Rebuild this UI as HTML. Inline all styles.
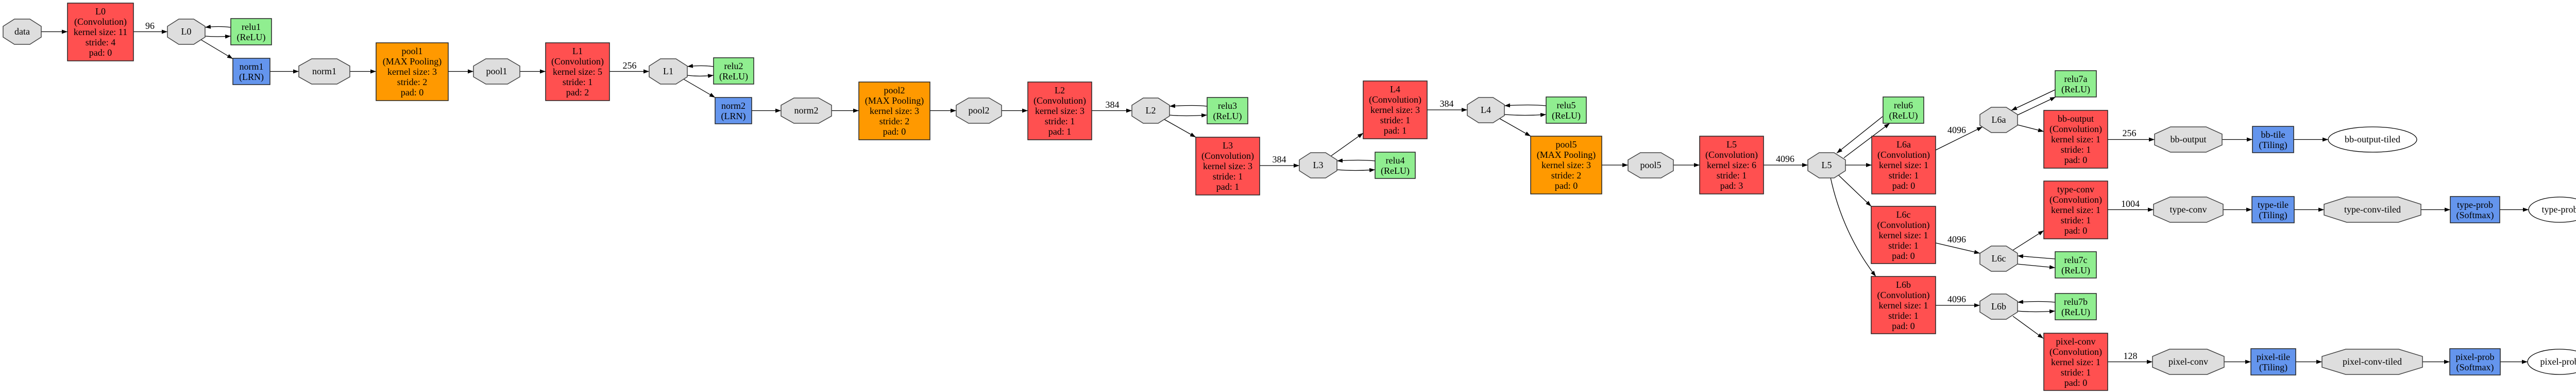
<!DOCTYPE html>
<html><head><meta charset="utf-8"><style>
html,body{margin:0;padding:0;background:#fff;}
svg{display:block;}
text{font-family:"Liberation Serif",serif;font-size:18px;text-anchor:middle;fill:#000;}
.o{fill:#dedede;stroke:#444;stroke-width:1.5;}
.r{fill:#ff5050;stroke:#222;stroke-width:1.5;}
.p{fill:#ff9900;stroke:#222;stroke-width:1.5;}
.g{fill:#90ee90;stroke:#222;stroke-width:1.5;}
.b{fill:#6495ed;stroke:#222;stroke-width:1.5;}
.e{fill:#fff;stroke:#000;stroke-width:1.3;}
.l{fill:none;stroke:#000;stroke-width:1.3;marker-end:url(#a);}
</style></head><body>
<svg width="5032" height="760" viewBox="0 0 5032 760" xmlns="http://www.w3.org/2000/svg">
<defs><marker id="a" markerUnits="userSpaceOnUse" markerWidth="11" markerHeight="8" refX="11" refY="4" orient="auto"><path d="M0,0 L11,4 L0,8 z" fill="#000"/></marker></defs>

<!-- EDGES -->
<path class="l" d="M80,61.5 L131,61.5"/>
<path class="l" d="M259,61.5 L325,61.5"/><text x="291" y="56">96</text>
<path class="l" d="M448,53 Q425,50 398,53"/>
<path class="l" d="M397,70 Q422,72 448,70"/>
<path class="l" d="M390,77 L452,114"/>
<path class="l" d="M524,138.5 L580,138.5"/>
<path class="l" d="M679,138.5 L730,138.5"/>
<path class="l" d="M870,138.5 L919,138.5"/>
<path class="l" d="M1009,138.5 L1059,138.5"/>
<path class="l" d="M1183,138.5 L1260,138.5"/><text x="1222" y="133">256</text>
<path class="l" d="M1385,129 Q1362,126 1334,129"/>
<path class="l" d="M1333,146 Q1358,149 1385,146"/>
<path class="l" d="M1326,153 L1388,189"/>
<path class="l" d="M1459,214.5 L1516,214.5"/>
<path class="l" d="M1614,214.5 L1667,214.5"/>
<path class="l" d="M1805,214.5 L1856,214.5"/>
<path class="l" d="M1944,214.5 L1995,214.5"/>
<path class="l" d="M2119,214.5 L2197,214.5"/><text x="2159" y="209">384</text>
<path class="l" d="M2343,206 Q2320,203 2270,206"/>
<path class="l" d="M2269,223 Q2300,226 2343,223"/>
<path class="l" d="M2259,231 L2321,266"/>
<path class="l" d="M2445,321 L2522,321"/><text x="2483" y="315">384</text>
<path class="l" d="M2669,312 Q2640,309 2595,312"/>
<path class="l" d="M2594,329 Q2630,332 2669,329"/>
<path class="l" d="M2584,302 L2646,258"/>
<path class="l" d="M2770,213 L2848,213"/><text x="2808" y="207">384</text>
<path class="l" d="M3001,205 Q2970,202 2920,205"/>
<path class="l" d="M2919,222 Q2960,225 3001,222"/>
<path class="l" d="M2911,230 L2971,264"/>
<path class="l" d="M3109,320 L3160,320"/>
<path class="l" d="M3248,320 L3299,320"/>
<path class="l" d="M3423,320 L3509,320"/><text x="3465" y="314">4096</text>
<path class="l" d="M3579,306 L3668,239"/>
<path class="l" d="M3654,226 L3565,297"/>
<path class="l" d="M3582,320 L3633,320"/>
<path class="l" d="M3569,340 L3632,400"/>
<path class="l" d="M3553,344 C3565,400 3590,470 3641,536"/>
<path class="l" d="M3757,291 L3848,246"/><text x="3798" y="258">4096</text>
<path class="l" d="M3989,174 L3904,214"/>
<path class="l" d="M3916,223 L3990,188"/>
<path class="l" d="M3916,242 L3967,255"/>
<path class="l" d="M4091,270.5 L4182,270.5"/><text x="4133" y="264">256</text>
<path class="l" d="M4313,270.5 L4372,270.5"/>
<path class="l" d="M4452,270.5 L4519,270.5"/>
<path class="l" d="M3757,471 L3843,491"/><text x="3798" y="470">4096</text>
<path class="l" d="M3907,485 L3967,447"/>
<path class="l" d="M3989,502 L3916,496"/>
<path class="l" d="M3916,512 L3989,519"/>
<path class="l" d="M4091,406.5 L4180,406.5"/><text x="4135" y="401">1004</text>
<path class="l" d="M4315,406.5 L4371,406.5"/>
<path class="l" d="M4453,406.5 L4511,406.5"/>
<path class="l" d="M4699,406.5 L4756,406.5"/>
<path class="l" d="M4852,406.5 L4908,406.5"/>
<path class="l" d="M3757,592 L3843,592"/><text x="3798" y="586">4096</text>
<path class="l" d="M3989,586 Q3960,583 3916,586"/>
<path class="l" d="M3915,603 Q3950,606 3989,603"/>
<path class="l" d="M3907,613 L3966,656"/>
<path class="l" d="M4091,701.5 L4178,701.5"/><text x="4135" y="696">128</text>
<path class="l" d="M4317,701.5 L4369,701.5"/>
<path class="l" d="M4456,701.5 L4507,701.5"/>
<path class="l" d="M4702,701.5 L4755,701.5"/>
<path class="l" d="M4853,701.5 L4906,701.5"/>

<!-- OCTAGONS -->
<polygon class="o" points="28,37 58,37 80,51 80,72 58,86 28,86 6,72 6,51"/><text x="43" y="67">data</text>
<polygon class="o" points="347,37 376,37 398,51 398,72 376,86 347,86 325,72 325,51"/><text x="361.5" y="67">L0</text>
<polygon class="o" points="605,114 654,114 679,128 679,149 654,163 605,163 580,149 580,128"/><text x="629.5" y="144">norm1</text>
<polygon class="o" points="943,114 985,114 1009,128 1009,149 985,163 943,163 919,149 919,128"/><text x="964" y="144">pool1</text>
<polygon class="o" points="1282,114 1312,114 1334,128 1334,149 1312,163 1282,163 1260,149 1260,128"/><text x="1297" y="144">L1</text>
<polygon class="o" points="1541,190 1589,190 1614,204 1614,225 1589,239 1541,239 1516,225 1516,204"/><text x="1565" y="220">norm2</text>
<polygon class="o" points="1880,190 1920,190 1944,204 1944,225 1920,239 1880,239 1856,225 1856,204"/><text x="1900" y="220">pool2</text>
<polygon class="o" points="2219,190 2248,190 2270,204 2270,225 2248,239 2219,239 2197,225 2197,204"/><text x="2233.5" y="220">L2</text>
<polygon class="o" points="2544,296 2573,296 2595,310 2595,331 2573,345 2544,345 2522,331 2522,310"/><text x="2558.5" y="326">L3</text>
<polygon class="o" points="2870,189 2898,189 2920,203 2920,224 2898,238 2870,238 2848,224 2848,203"/><text x="2884" y="219">L4</text>
<polygon class="o" points="3184,296 3224,296 3248,310 3248,331 3224,345 3184,345 3160,331 3160,310"/><text x="3204" y="326">pool5</text>
<polygon class="o" points="3531,296 3560,296 3582,310 3582,331 3560,345 3531,345 3509,331 3509,310"/><text x="3545.5" y="326">L5</text>
<polygon class="o" points="3865,208 3894,208 3916,222 3916,243 3894,257 3865,257 3843,243 3843,222"/><text x="3879.5" y="238">L6a</text>
<polygon class="o" points="4213,246 4282,246 4313,260 4313,281 4282,295 4213,295 4182,281 4182,260"/><text x="4247.5" y="276">bb-output</text>
<polygon class="o" points="3865,477 3894,477 3916,491 3916,512 3894,526 3865,526 3843,512 3843,491"/><text x="3879.5" y="507">L6c</text>
<polygon class="o" points="4212,382 4283,382 4315,396 4315,417 4283,431 4212,431 4180,417 4180,396"/><text x="4247.5" y="412">type-conv</text>
<polygon class="o" points="4555,382 4655,382 4699,396 4699,417 4655,431 4555,431 4511,417 4511,396"/><text x="4605" y="412">type-conv-tiled</text>
<polygon class="o" points="3865,570 3894,570 3916,584 3916,605 3894,619 3865,619 3843,605 3843,584"/><text x="3879.5" y="600">L6b</text>
<polygon class="o" points="4211,677 4284,677 4317,691 4317,712 4284,726 4211,726 4178,712 4178,691"/><text x="4247.5" y="707">pixel-conv</text>
<polygon class="o" points="4553,677 4656,677 4702,691 4702,712 4656,726 4553,726 4507,712 4507,691"/><text x="4604.5" y="707">pixel-conv-tiled</text>

<!-- ELLIPSES -->
<ellipse class="e" cx="4605" cy="270.5" rx="86" ry="24.5"/><text x="4605" y="276">bb-output-tiled</text>
<ellipse class="e" cx="4968.5" cy="406.5" rx="60.5" ry="24.5"/><text x="4968.5" y="412">type-prob</text>
<ellipse class="e" cx="4968" cy="701.5" rx="62" ry="24.5"/><text x="4968" y="707">pixel-prob</text>

<!-- CONV BOXES -->
<rect class="r" x="131" y="6" width="128" height="112"/>
<text x="195" y="28">L0</text><text x="195" y="48">(Convolution)</text><text x="195" y="68">kernel size: 11</text><text x="195" y="88">stride: 4</text><text x="195" y="108">pad: 0</text>
<rect class="r" x="1059" y="83" width="124" height="112"/>
<text x="1121" y="105">L1</text><text x="1121" y="125">(Convolution)</text><text x="1121" y="145">kernel size: 5</text><text x="1121" y="165">stride: 1</text><text x="1121" y="185">pad: 2</text>
<rect class="r" x="1995" y="159" width="124" height="112"/>
<text x="2057" y="181">L2</text><text x="2057" y="201">(Convolution)</text><text x="2057" y="221">kernel size: 3</text><text x="2057" y="241">stride: 1</text><text x="2057" y="261">pad: 1</text>
<rect class="r" x="2321" y="266" width="124" height="112"/>
<text x="2383" y="288">L3</text><text x="2383" y="308">(Convolution)</text><text x="2383" y="328">kernel size: 3</text><text x="2383" y="348">stride: 1</text><text x="2383" y="368">pad: 1</text>
<rect class="r" x="2646" y="157" width="124" height="112"/>
<text x="2708" y="179">L4</text><text x="2708" y="199">(Convolution)</text><text x="2708" y="219">kernel size: 3</text><text x="2708" y="239">stride: 1</text><text x="2708" y="259">pad: 1</text>
<rect class="r" x="3299" y="264" width="124" height="112"/>
<text x="3361" y="286">L5</text><text x="3361" y="306">(Convolution)</text><text x="3361" y="326">kernel size: 6</text><text x="3361" y="346">stride: 1</text><text x="3361" y="366">pad: 3</text>
<rect class="r" x="3633" y="264" width="124" height="112"/>
<text x="3695" y="286">L6a</text><text x="3695" y="306">(Convolution)</text><text x="3695" y="326">kernel size: 1</text><text x="3695" y="346">stride: 1</text><text x="3695" y="366">pad: 0</text>
<rect class="r" x="3632" y="400" width="125" height="111"/>
<text x="3694.5" y="422">L6c</text><text x="3694.5" y="442">(Convolution)</text><text x="3694.5" y="462">kernel size: 1</text><text x="3694.5" y="482">stride: 1</text><text x="3694.5" y="502">pad: 0</text>
<rect class="r" x="3632" y="536" width="125" height="111"/>
<text x="3694.5" y="558">L6b</text><text x="3694.5" y="578">(Convolution)</text><text x="3694.5" y="598">kernel size: 1</text><text x="3694.5" y="618">stride: 1</text><text x="3694.5" y="638">pad: 0</text>
<rect class="r" x="3967" y="214" width="124" height="112"/>
<text x="4029" y="236">bb-output</text><text x="4029" y="256">(Convolution)</text><text x="4029" y="276">kernel size: 1</text><text x="4029" y="296">stride: 1</text><text x="4029" y="316">pad: 0</text>
<rect class="r" x="3967" y="351" width="124" height="112"/>
<text x="4029" y="373">type-conv</text><text x="4029" y="393">(Convolution)</text><text x="4029" y="413">kernel size: 1</text><text x="4029" y="433">stride: 1</text><text x="4029" y="453">pad: 0</text>
<rect class="r" x="3967" y="646" width="124" height="111"/>
<text x="4029" y="668">pixel-conv</text><text x="4029" y="688">(Convolution)</text><text x="4029" y="708">kernel size: 1</text><text x="4029" y="728">stride: 1</text><text x="4029" y="748">pad: 0</text>

<!-- POOL BOXES -->
<rect class="p" x="730" y="83" width="140" height="112"/>
<text x="800" y="105">pool1</text><text x="800" y="125">(MAX Pooling)</text><text x="800" y="145">kernel size: 3</text><text x="800" y="165">stride: 2</text><text x="800" y="185">pad: 0</text>
<rect class="p" x="1667" y="159" width="138" height="112"/>
<text x="1736" y="181">pool2</text><text x="1736" y="201">(MAX Pooling)</text><text x="1736" y="221">kernel size: 3</text><text x="1736" y="241">stride: 2</text><text x="1736" y="261">pad: 0</text>
<rect class="p" x="2971" y="264" width="138" height="112"/>
<text x="3040" y="286">pool5</text><text x="3040" y="306">(MAX Pooling)</text><text x="3040" y="326">kernel size: 3</text><text x="3040" y="346">stride: 2</text><text x="3040" y="366">pad: 0</text>

<!-- RELU BOXES -->
<rect class="g" x="448" y="36" width="79" height="51"/><text x="487.5" y="58">relu1</text><text x="487.5" y="78">(ReLU)</text>
<rect class="g" x="1385" y="112" width="78" height="51"/><text x="1424" y="134">relu2</text><text x="1424" y="154">(ReLU)</text>
<rect class="g" x="2343" y="189" width="79" height="51"/><text x="2382.5" y="211">relu3</text><text x="2382.5" y="231">(ReLU)</text>
<rect class="g" x="2669" y="295" width="78" height="51"/><text x="2708" y="317">relu4</text><text x="2708" y="337">(ReLU)</text>
<rect class="g" x="3001" y="188" width="78" height="51"/><text x="3040" y="210">relu5</text><text x="3040" y="230">(ReLU)</text>
<rect class="g" x="3655" y="188" width="79" height="51"/><text x="3694.5" y="210">relu6</text><text x="3694.5" y="230">(ReLU)</text>
<rect class="g" x="3989" y="137" width="80" height="51"/><text x="4029" y="159">relu7a</text><text x="4029" y="179">(ReLU)</text>
<rect class="g" x="3989" y="488" width="80" height="51"/><text x="4029" y="510">relu7c</text><text x="4029" y="530">(ReLU)</text>
<rect class="g" x="3989" y="569" width="80" height="51"/><text x="4029" y="591">relu7b</text><text x="4029" y="611">(ReLU)</text>

<!-- BLUE BOXES -->
<rect class="b" x="452" y="113" width="72" height="51"/><text x="488" y="135">norm1</text><text x="488" y="155">(LRN)</text>
<rect class="b" x="1388" y="189" width="71" height="51"/><text x="1423.5" y="211">norm2</text><text x="1423.5" y="231">(LRN)</text>
<rect class="b" x="4372" y="245" width="80" height="51"/><text x="4412" y="267">bb-tile</text><text x="4412" y="287">(Tiling)</text>
<rect class="b" x="4371" y="381" width="82" height="51"/><text x="4412" y="403">type-tile</text><text x="4412" y="423">(Tiling)</text>
<rect class="b" x="4756" y="381" width="96" height="51"/><text x="4804" y="403">type-prob</text><text x="4804" y="423">(Softmax)</text>
<rect class="b" x="4369" y="676" width="87" height="51"/><text x="4412.5" y="698">pixel-tile</text><text x="4412.5" y="718">(Tiling)</text>
<rect class="b" x="4755" y="676" width="98" height="51"/><text x="4804" y="698">pixel-prob</text><text x="4804" y="718">(Softmax)</text>
</svg>
</body></html>
